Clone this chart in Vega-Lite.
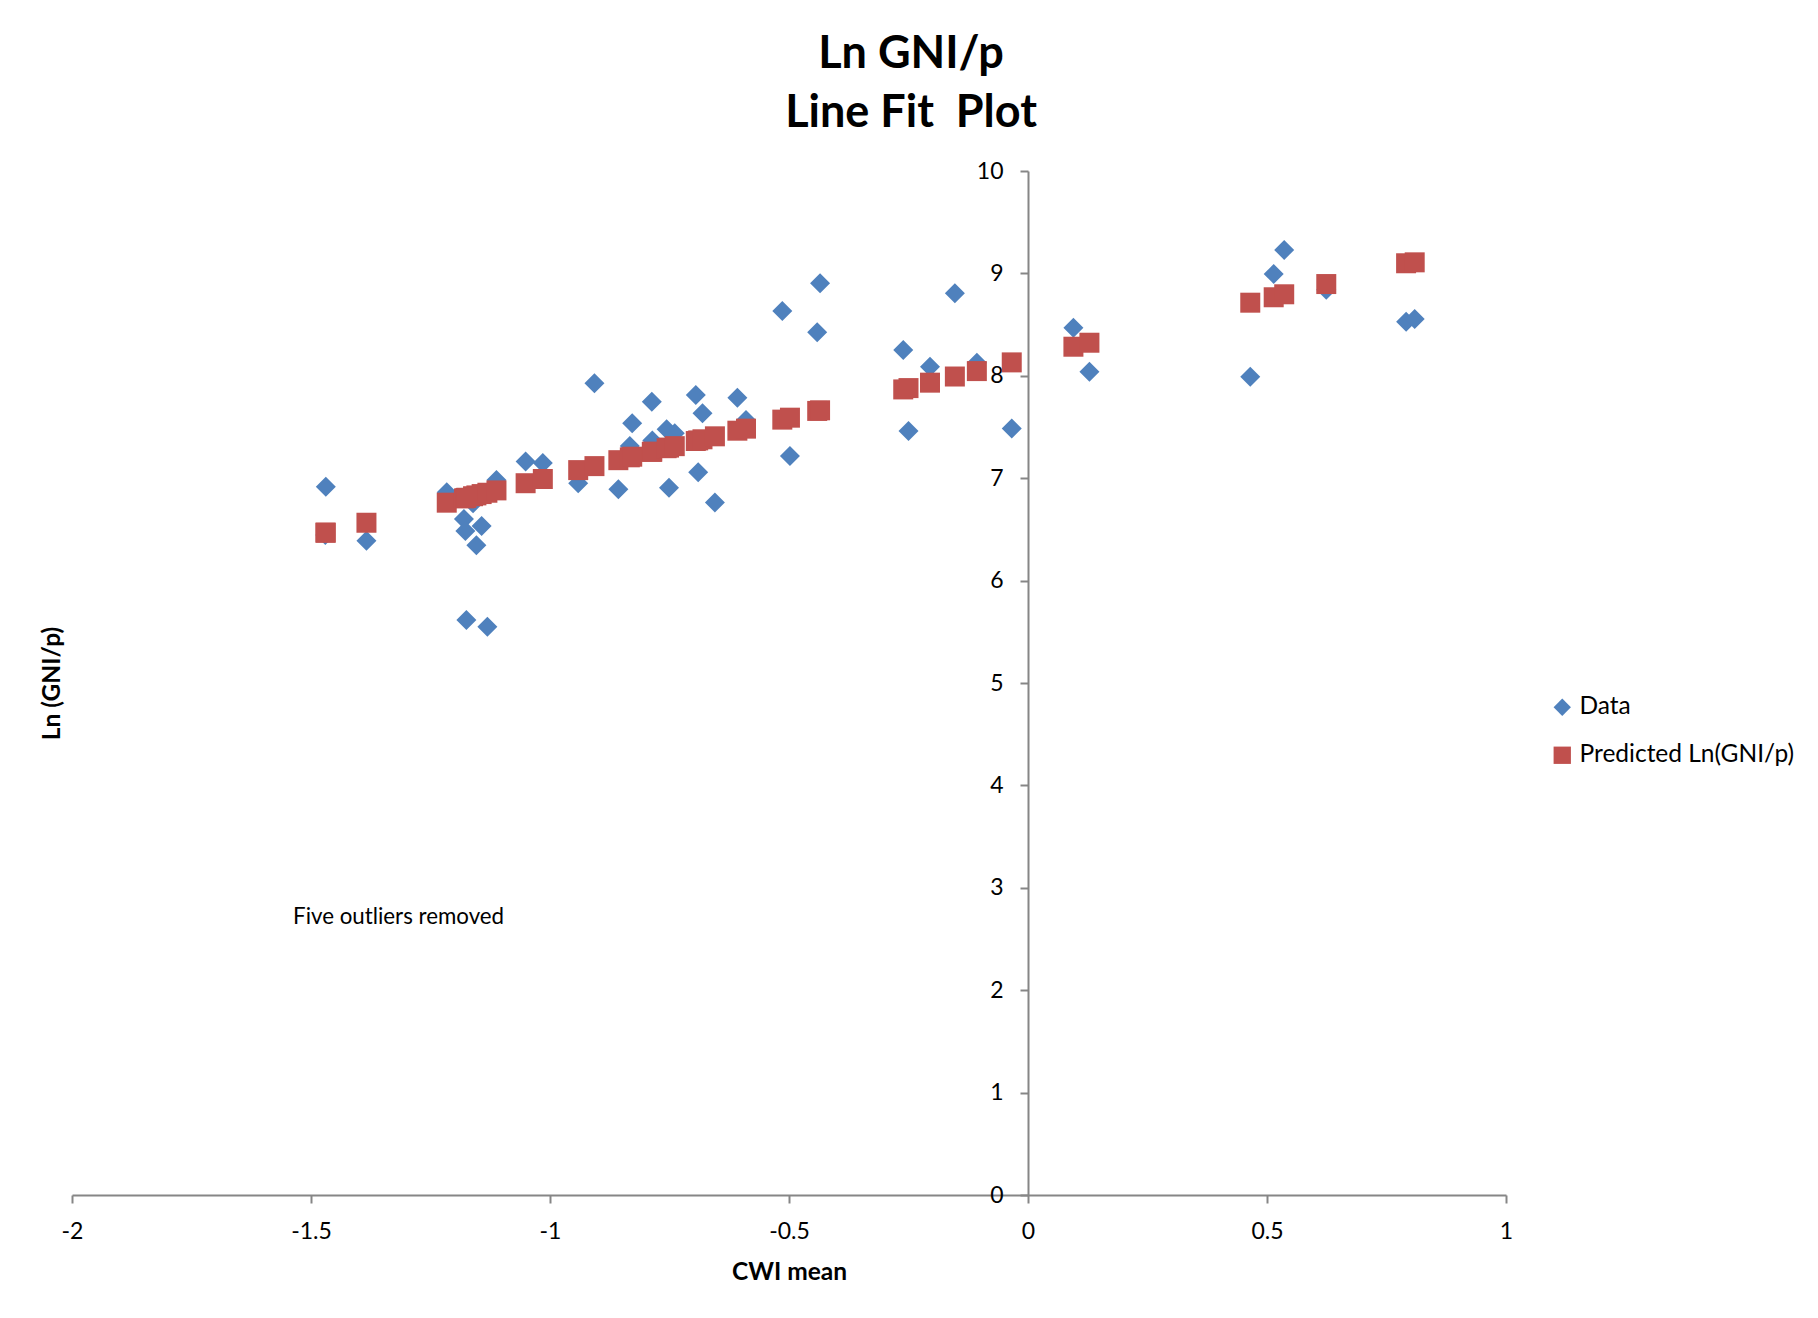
{
  "$schema": "https://vega.github.io/schema/vega-lite/v6.json",
  "width": 1434,
  "height": 1024,
  "autosize": {"type": "none"},
  "padding": {"left": 72, "top": 171, "right": 312, "bottom": 123},
  "background": "white",
  "title": {
    "text": ["Ln GNI/p", "Line Fit \u00a0Plot"],
    "font": "Lato",
    "fontSize": 45,
    "fontWeight": "bold",
    "color": "black",
    "lineHeight": 59,
    "anchor": "middle",
    "frame": "group",
    "dx": 122,
    "dy": -14,
    "offset": 10
  },
  "config": {
    "view": {"stroke": null},
    "font": "Lato",
    "axis": {
      "grid": false,
      "domainColor": "#868686",
      "domainWidth": 2,
      "tickColor": "#868686",
      "tickWidth": 2,
      "tickSize": 8,
      "labelFont": "Lato",
      "labelFontSize": 23,
      "labelColor": "black",
      "labelPadding": 17,
      "labelFlush": false,
      "labelOverlap": false,
      "labelExpr": "'' + datum.value",
      "titleFont": "Lato",
      "titleFontSize": 24.5,
      "titleFontWeight": "bold",
      "titleColor": "black"
    }
  },
  "layer": [
    {
      "data": {
        "values": [
          {"cwi": -1.469, "v": 6.917, "series": "Data"},
          {"cwi": -1.470, "v": 6.445, "series": "Data"},
          {"cwi": -1.384, "v": 6.390, "series": "Data"},
          {"cwi": -1.216, "v": 6.862, "series": "Data"},
          {"cwi": -1.180, "v": 6.602, "series": "Data"},
          {"cwi": -1.177, "v": 6.484, "series": "Data"},
          {"cwi": -1.161, "v": 6.755, "series": "Data"},
          {"cwi": -1.154, "v": 6.345, "series": "Data"},
          {"cwi": -1.143, "v": 6.533, "series": "Data"},
          {"cwi": -1.175, "v": 5.615, "series": "Data"},
          {"cwi": -1.131, "v": 5.550, "series": "Data"},
          {"cwi": -1.112, "v": 6.982, "series": "Data"},
          {"cwi": -1.051, "v": 7.163, "series": "Data"},
          {"cwi": -1.015, "v": 7.148, "series": "Data"},
          {"cwi": -0.941, "v": 6.950, "series": "Data"},
          {"cwi": -0.907, "v": 7.927, "series": "Data"},
          {"cwi": -0.857, "v": 6.892, "series": "Data"},
          {"cwi": -0.833, "v": 7.314, "series": "Data"},
          {"cwi": -0.828, "v": 7.536, "series": "Data"},
          {"cwi": -0.787, "v": 7.747, "series": "Data"},
          {"cwi": -0.786, "v": 7.368, "series": "Data"},
          {"cwi": -0.756, "v": 7.478, "series": "Data"},
          {"cwi": -0.751, "v": 6.907, "series": "Data"},
          {"cwi": -0.739, "v": 7.438, "series": "Data"},
          {"cwi": -0.695, "v": 7.813, "series": "Data"},
          {"cwi": -0.690, "v": 7.058, "series": "Data"},
          {"cwi": -0.681, "v": 7.634, "series": "Data"},
          {"cwi": -0.655, "v": 6.763, "series": "Data"},
          {"cwi": -0.608, "v": 7.786, "series": "Data"},
          {"cwi": -0.590, "v": 7.568, "series": "Data"},
          {"cwi": -0.514, "v": 8.633, "series": "Data"},
          {"cwi": -0.498, "v": 7.217, "series": "Data"},
          {"cwi": -0.441, "v": 8.425, "series": "Data"},
          {"cwi": -0.435, "v": 8.903, "series": "Data"},
          {"cwi": -0.261, "v": 8.252, "series": "Data"},
          {"cwi": -0.250, "v": 7.461, "series": "Data"},
          {"cwi": -0.205, "v": 8.089, "series": "Data"},
          {"cwi": -0.153, "v": 8.806, "series": "Data"},
          {"cwi": -0.107, "v": 8.128, "series": "Data"},
          {"cwi": -0.034, "v": 7.485, "series": "Data"},
          {"cwi": 0.095, "v": 8.470, "series": "Data"},
          {"cwi": 0.1285, "v": 8.040, "series": "Data"},
          {"cwi": 0.465, "v": 7.991, "series": "Data"},
          {"cwi": 0.514, "v": 8.994, "series": "Data"},
          {"cwi": 0.536, "v": 9.229, "series": "Data"},
          {"cwi": 0.624, "v": 8.840, "series": "Data"},
          {"cwi": 0.791, "v": 8.528, "series": "Data"},
          {"cwi": 0.809, "v": 8.555, "series": "Data"},
          {"cwi": -1.469, "v": 6.468, "series": "Predicted Ln(GNI/p)"},
          {"cwi": -1.470, "v": 6.468, "series": "Predicted Ln(GNI/p)"},
          {"cwi": -1.384, "v": 6.565, "series": "Predicted Ln(GNI/p)"},
          {"cwi": -1.216, "v": 6.761, "series": "Predicted Ln(GNI/p)"},
          {"cwi": -1.180, "v": 6.803, "series": "Predicted Ln(GNI/p)"},
          {"cwi": -1.177, "v": 6.806, "series": "Predicted Ln(GNI/p)"},
          {"cwi": -1.161, "v": 6.824, "series": "Predicted Ln(GNI/p)"},
          {"cwi": -1.154, "v": 6.832, "series": "Predicted Ln(GNI/p)"},
          {"cwi": -1.143, "v": 6.845, "series": "Predicted Ln(GNI/p)"},
          {"cwi": -1.175, "v": 6.809, "series": "Predicted Ln(GNI/p)"},
          {"cwi": -1.131, "v": 6.858, "series": "Predicted Ln(GNI/p)"},
          {"cwi": -1.112, "v": 6.881, "series": "Predicted Ln(GNI/p)"},
          {"cwi": -1.051, "v": 6.951, "series": "Predicted Ln(GNI/p)"},
          {"cwi": -1.015, "v": 6.992, "series": "Predicted Ln(GNI/p)"},
          {"cwi": -0.941, "v": 7.079, "series": "Predicted Ln(GNI/p)"},
          {"cwi": -0.907, "v": 7.118, "series": "Predicted Ln(GNI/p)"},
          {"cwi": -0.857, "v": 7.176, "series": "Predicted Ln(GNI/p)"},
          {"cwi": -0.833, "v": 7.204, "series": "Predicted Ln(GNI/p)"},
          {"cwi": -0.828, "v": 7.210, "series": "Predicted Ln(GNI/p)"},
          {"cwi": -0.787, "v": 7.257, "series": "Predicted Ln(GNI/p)"},
          {"cwi": -0.786, "v": 7.259, "series": "Predicted Ln(GNI/p)"},
          {"cwi": -0.756, "v": 7.293, "series": "Predicted Ln(GNI/p)"},
          {"cwi": -0.751, "v": 7.299, "series": "Predicted Ln(GNI/p)"},
          {"cwi": -0.739, "v": 7.313, "series": "Predicted Ln(GNI/p)"},
          {"cwi": -0.695, "v": 7.363, "series": "Predicted Ln(GNI/p)"},
          {"cwi": -0.690, "v": 7.369, "series": "Predicted Ln(GNI/p)"},
          {"cwi": -0.681, "v": 7.380, "series": "Predicted Ln(GNI/p)"},
          {"cwi": -0.655, "v": 7.409, "series": "Predicted Ln(GNI/p)"},
          {"cwi": -0.608, "v": 7.464, "series": "Predicted Ln(GNI/p)"},
          {"cwi": -0.590, "v": 7.484, "series": "Predicted Ln(GNI/p)"},
          {"cwi": -0.514, "v": 7.572, "series": "Predicted Ln(GNI/p)"},
          {"cwi": -0.498, "v": 7.591, "series": "Predicted Ln(GNI/p)"},
          {"cwi": -0.441, "v": 7.657, "series": "Predicted Ln(GNI/p)"},
          {"cwi": -0.435, "v": 7.663, "series": "Predicted Ln(GNI/p)"},
          {"cwi": -0.261, "v": 7.867, "series": "Predicted Ln(GNI/p)"},
          {"cwi": -0.250, "v": 7.880, "series": "Predicted Ln(GNI/p)"},
          {"cwi": -0.205, "v": 7.933, "series": "Predicted Ln(GNI/p)"},
          {"cwi": -0.153, "v": 7.993, "series": "Predicted Ln(GNI/p)"},
          {"cwi": -0.107, "v": 8.046, "series": "Predicted Ln(GNI/p)"},
          {"cwi": -0.034, "v": 8.131, "series": "Predicted Ln(GNI/p)"},
          {"cwi": 0.095, "v": 8.284, "series": "Predicted Ln(GNI/p)"},
          {"cwi": 0.1285, "v": 8.323, "series": "Predicted Ln(GNI/p)"},
          {"cwi": 0.465, "v": 8.714, "series": "Predicted Ln(GNI/p)"},
          {"cwi": 0.514, "v": 8.767, "series": "Predicted Ln(GNI/p)"},
          {"cwi": 0.536, "v": 8.796, "series": "Predicted Ln(GNI/p)"},
          {"cwi": 0.624, "v": 8.896, "series": "Predicted Ln(GNI/p)"},
          {"cwi": 0.791, "v": 9.099, "series": "Predicted Ln(GNI/p)"},
          {"cwi": 0.809, "v": 9.108, "series": "Predicted Ln(GNI/p)"}
        ]
      },
      "mark": {"type": "point", "filled": true, "size": 400, "opacity": 1, "strokeWidth": 0},
      "encoding": {
        "x": {
          "field": "cwi",
          "type": "quantitative",
          "scale": {"domain": [-2, 1], "nice": false, "zero": false},
          "axis": {
            "orient": "bottom",
            "values": [-2, -1.5, -1, -0.5, 0, 0.5, 1],
            "title": "CWI mean",
            "titlePadding": 17
          }
        },
        "y": {
          "field": "v",
          "type": "quantitative",
          "scale": {"domain": [0, 10], "nice": false},
          "axis": {
            "orient": "left",
            "offset": -956,
            "values": [0, 1, 2, 3, 4, 5, 6, 7, 8, 9, 10],
            "title": "Ln (GNI/p)",
            "titleX": -976,
            "titleY": 512,
            "titleAngle": -90,
            "titleAlign": "center",
            "titleBaseline": "middle"
          }
        },
        "color": {
          "field": "series",
          "type": "nominal",
          "scale": {"domain": ["Data", "Predicted Ln(GNI/p)"], "range": ["#4F81BD", "#C0504D"]},
          "legend": {
            "orient": "none",
            "legendX": 1478,
            "legendY": 524,
            "title": null,
            "padding": 0,
            "labelFont": "Lato",
            "labelFontSize": 24.5,
            "labelColor": "black",
            "labelLimit": 0,
            "symbolSize": 300,
            "labelOffset": 5,
            "rowPadding": 23
          }
        },
        "shape": {
          "field": "series",
          "type": "nominal",
          "scale": {"domain": ["Data", "Predicted Ln(GNI/p)"], "range": ["diamond", "square"]}
        }
      }
    },
    {
      "data": {"values": [{"note": "Five outliers removed"}]},
      "mark": {"type": "text", "align": "left", "baseline": "middle", "font": "Lato", "fontSize": 22.3, "color": "black"},
      "encoding": {
        "x": {"datum": -1.5375, "type": "quantitative"},
        "y": {"datum": 2.715, "type": "quantitative"},
        "text": {"field": "note", "type": "nominal"}
      }
    }
  ]
}
